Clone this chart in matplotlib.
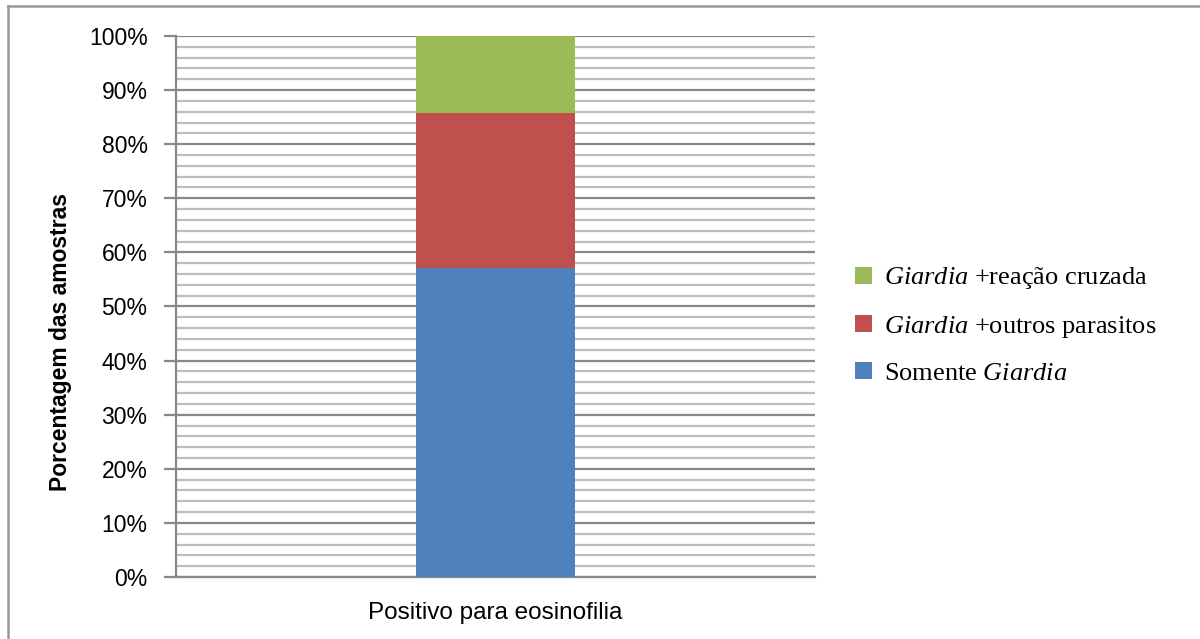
"""Stacked 100% bar: Giardia-positive samples with eosinophilia."""

import matplotlib.pyplot as plt
import matplotlib as mpl
import numpy as np
from matplotlib.lines import Line2D
from matplotlib.patches import Patch
from matplotlib.ticker import MultipleLocator, FuncFormatter

mpl.rcParams.update(
    {
        "font.family": "sans-serif",
        "font.sans-serif": ["Liberation Sans", "DejaVu Sans"],
        "mathtext.fontset": "custom",
        "mathtext.rm": "Liberation Serif",
        "mathtext.it": "Liberation Serif:italic",
    }
)

categories = ["Positivo para eosinofilia"]
series_names = [
    "Somente $\\it{Giardia}$",
    "$\\it{Giardia}$ +outros parasitos",
    "$\\it{Giardia}$ +reação cruzada",
]
# share of samples (%) per group: 4, 2 and 1 out of 7
series_values = [
    [57.14],
    [28.57],
    [14.29],
]
series_colors = ["#4F81BD", "#C0504D", "#9BBB59"]

fig = plt.figure(figsize=(12, 6.39), dpi=100, facecolor="white")
ax = fig.add_axes([0.1467, 0.097, 0.5325, 0.8467])

x = np.arange(len(categories))
bottom = np.zeros(len(categories))
handles = []
for name, vals, color in zip(series_names, series_values, series_colors):
    vals = np.asarray(vals)
    ax.bar(x, vals, width=0.25, bottom=bottom, color=color, zorder=3)
    bottom += vals
    handles.append(Patch(facecolor=color, label=name))

ax.set_xlim(-0.5, 0.5)
ax.set_ylim(0, 100)
ax.yaxis.set_major_locator(MultipleLocator(10))
ax.yaxis.set_minor_locator(MultipleLocator(2))
ax.yaxis.set_major_formatter(FuncFormatter(lambda v, _: f"{v:.0f}%"))
ax.set_xticks(x)
ax.set_xticklabels(categories, fontsize=17.5)

ax.grid(which="minor", axis="y", color="#bdbdbd", linewidth=1.6, zorder=1)
ax.grid(which="major", axis="y", color="#888888", linewidth=1.6, zorder=2)
ax.tick_params(axis="y", which="major", length=9, width=1.6, color="#888888",
               labelsize=16.5, pad=11.5)
ax.tick_params(axis="y", which="minor", length=0)
ax.tick_params(axis="x", length=0, pad=18)

for side in ["top", "right"]:
    ax.spines[side].set_visible(False)
for side in ["left", "bottom"]:
    ax.spines[side].set_color("#888888")
    ax.spines[side].set_linewidth(1.6)

ax.set_ylabel("Porcentagem das amostras", fontsize=16.5, fontweight="bold")
ax.yaxis.set_label_coords(-0.163, 0.434)

leg = fig.legend(
    handles=handles[::-1],
    loc="center left",
    bbox_to_anchor=(0.693, 0.491),
    frameon=False,
    handlelength=0.62,
    handleheight=0.62,
    handletextpad=0.45,
    labelspacing=0.85,
    prop={"family": "Liberation Serif", "size": 19},
)

# outer chart frame (left and top edges)
fig.add_artist(Line2D([8 / 1200, 8 / 1200], [0, 1 - 6 / 639],
                      transform=fig.transFigure, color="#999999", linewidth=1.8))
fig.add_artist(Line2D([8 / 1200, 1], [1 - 6 / 639, 1 - 6 / 639],
                      transform=fig.transFigure, color="#999999", linewidth=1.8))

fig.savefig("out.png", dpi=100, facecolor="white")
